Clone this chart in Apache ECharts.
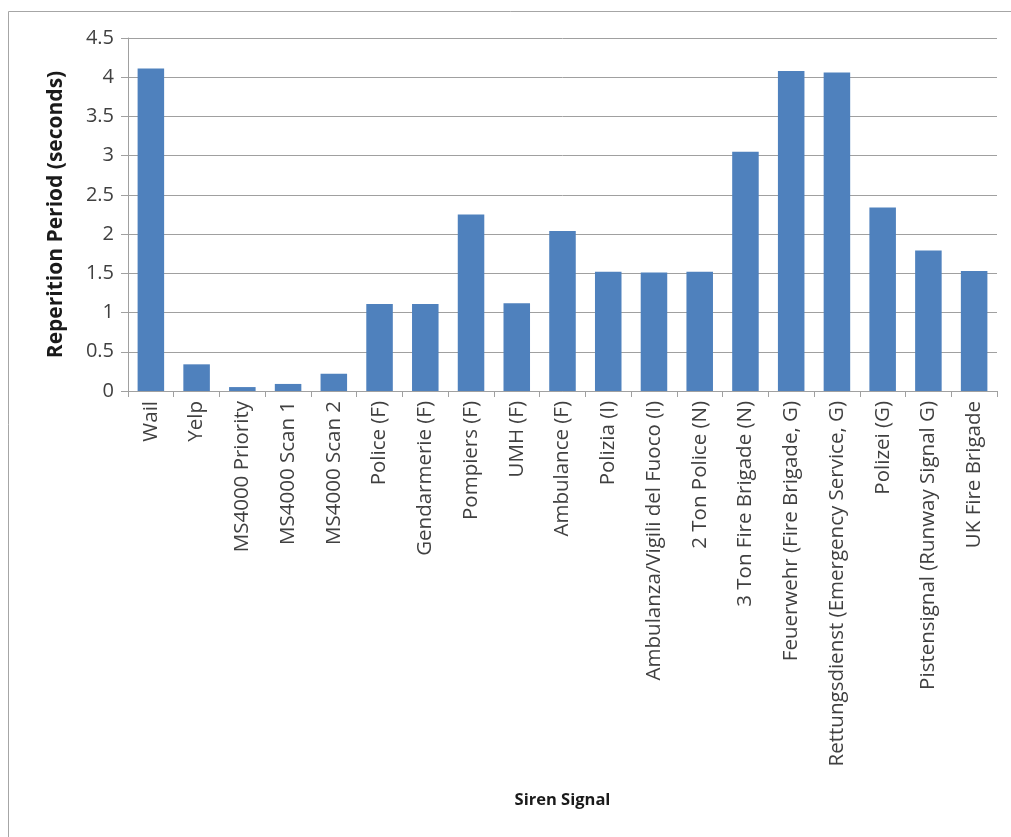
<!DOCTYPE html>
<html>
<head>
<meta charset="utf-8">
<script src="https://cdn.jsdelivr.net/npm/echarts@6/dist/echarts.min.js"></script>
<style>
html,body{margin:0;padding:0;background:#fff;}
#chart{width:1011px;height:837px;}
</style>
</head>
<body>
<div id="chart"></div>
<script>
const categories = ["Wail","Yelp","MS4000 Priority","MS4000 Scan 1","MS4000 Scan 2","Police (F)","Gendarmerie (F)","Pompiers (F)","UMH (F)","Ambulance (F)","Polizia (I)","Ambulanza/Vigili del Fuoco (I)","2 Ton Police (N)","3 Ton Fire Brigade (N)","Feuerwehr (Fire Brigade, G)","Rettungsdienst (Emergency Service, G)","Polizei (G)","Pistensignal (Runway Signal G)","UK Fire Brigade"];
const values = [4.11,0.34,0.05,0.09,0.22,1.11,1.11,2.25,1.12,2.04,1.52,1.51,1.52,3.05,4.08,4.06,2.34,1.79,1.53];
const yTicks = {min:0, max:4.5, interval:0.5};

const chart = echarts.init(document.getElementById('chart'));
chart.setOption({
  animation:false,
  graphic:[{type:'rect',shape:{x:8.5,y:11.5,width:1010,height:830},style:{fill:'none',stroke:'#a6a6a6',lineWidth:1},silent:true}],
  grid:{left:128,right:14,top:38,bottom:446,containLabel:false},
  xAxis:{
    type:'category',data:categories,
    name:'Siren Signal',nameLocation:'middle',nameGap:401,
    nameTextStyle:{fontFamily:'Open Sans',fontWeight:'bold',fontSize:16.5,color:'#1a1a1a'},
    axisLine:{lineStyle:{color:'#a0a0a0',width:1}},
    axisTick:{show:true,length:6,alignWithLabel:false,lineStyle:{color:'#a0a0a0'}},
    axisLabel:{rotate:90,interval:0,margin:10,fontFamily:'Open Sans',fontSize:20.5,color:'#404040'}
  },
  yAxis:{
    type:'value',min:yTicks.min,max:yTicks.max,interval:yTicks.interval,
    name:'Reperition Period (seconds)',nameLocation:'middle',nameGap:61,
    nameTextStyle:{fontFamily:'Open Sans',fontWeight:'bold',fontSize:21,color:'#1a1a1a'},
    axisLine:{show:true,lineStyle:{color:'#a0a0a0',width:1}},
    axisTick:{show:true,length:7,lineStyle:{color:'#a0a0a0'}},
    axisLabel:{fontFamily:'Open Sans',fontSize:20,color:'#404040',margin:14},
    splitLine:{lineStyle:{color:'#a0a0a0',width:1}}
  },
  series:[{type:'bar',data:values,barCategoryGap:'42%',itemStyle:{color:'#4f81bd'}}]
});
</script>
</body>
</html>
